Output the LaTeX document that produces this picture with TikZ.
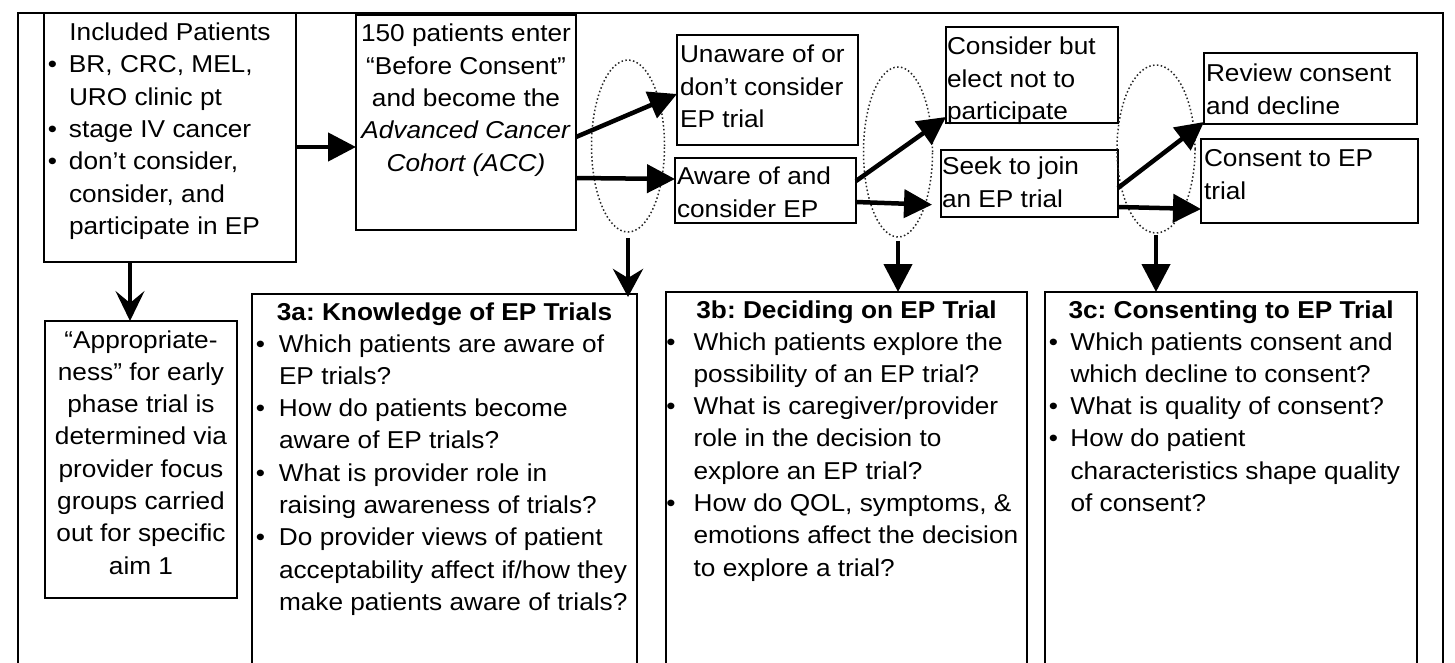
\documentclass[tikz,border=0pt]{standalone}
\usepackage{fontspec}
\setmainfont{Liberation Sans}[FakeStretch=1.075]
\usetikzlibrary{arrows.meta,shapes.geometric}
\frenchspacing
\tikzset{
 box/.style={draw, line width=2pt, rectangle, inner sep=0pt, outer sep=0pt, anchor=north west},
 txt/.style={inner sep=0pt, outer sep=0pt, font=\fontsize{24.4}{32.3}\selectfont},
 ttl/.style={txt, font=\fontsize{24.4}{32.3}\selectfont\bfseries, anchor=base},
 arr/.style={line width=4.5pt, -{Triangle[length=28pt,width=28pt]}},
 barb/.style={line width=4.5pt, -{Stealth[length=28pt,width=30pt,inset=9pt]}},
 barbthin/.style={line width=3.3pt, -{Stealth[length=30pt,width=29pt,inset=12pt]}},
 oval/.style={ellipse, draw, dash pattern=on 1.5pt off 2.4pt, line width=1.5pt, inner sep=0pt, draw=black!85},
}
\newcommand\bu[1]{\llap{•\hspace{#1}}}
\newcommand\lft[1]{\begin{tabular}[t]{@{}l@{}}#1\end{tabular}}
\newcommand\ctr[1]{\begin{tabular}[t]{@{}c@{}}#1\end{tabular}}
\begin{document}
\begin{tikzpicture}[x=1pt,y=-1pt]
\useasboundingbox (0,0) rectangle (1455,663);
\clip (0,0) rectangle (1455,663);
\fill[white] (0,0) rectangle (1455,663);
% frame
\draw[line width=2pt] (18,720) -- (18,13) -- (1443,13) -- (1443,720);
% boxes
\node[box, minimum width=252pt, minimum height=249pt] (A) at (44,13) {};
\node[box, minimum width=220pt, minimum height=215pt] (B) at (356,15) {};
\node[box, minimum width=181pt, minimum height=110pt] (U) at (677,35) {};
\node[box, minimum width=181pt, minimum height=65pt] (Aw) at (675,158) {};
\node[box, minimum width=172pt, minimum height=96pt] (C) at (946,27) {};
\node[box, minimum width=177pt, minimum height=67pt] (S) at (941,150) {};
\node[box, minimum width=213pt, minimum height=71pt] (R) at (1204,53) {};
\node[box, minimum width=217pt, minimum height=84pt] (Co) at (1201,139) {};
\node[box, minimum width=192pt, minimum height=277pt] (Ap) at (45,321) {};
\node[box, minimum width=385pt, minimum height=420pt] (K3a) at (252,294) {};
\node[box, minimum width=361pt, minimum height=420pt] (K3b) at (666,292) {};
\node[box, minimum width=372pt, minimum height=420pt] (K3c) at (1045,292) {};
% ellipses
\node[oval, minimum width=73pt, minimum height=172pt] (e1) at (628,146) {};
\node[oval, minimum width=69pt, minimum height=170pt] (e2) at (898,152) {};
\node[oval, minimum width=78pt, minimum height=168pt] (e3) at (1156,149) {};
% texts
\node[txt, anchor=base] (tA0) at (170,41) {Included Patients};
\node[txt, anchor=base west] (tA) at (69,73) {\lft{\bu{12pt}BR, CRC, MEL,\\ URO clinic pt\\ \bu{12pt}stage IV cancer\\ \bu{12pt}don’t consider,\\ consider, and\\ participate in EP}};
\node[txt, anchor=base] (tB) at (466,42) {\ctr{150 patients enter\\ “Before Consent”\\ and become the\\ \textit{Advanced Cancer}\\ \textit{Cohort (ACC)}}};
\node[txt, anchor=base west] (tU) at (680,63) {\lft{Unaware of or\\ don’t consider\\ EP trial}};
\node[txt, anchor=base west] (tAw) at (677,185) {\lft{Aware of and\\ consider EP}};
\node[txt, anchor=base west] (tC) at (947,55) {\lft{Consider but\\ elect not to\\ participate}};
\node[txt, anchor=base west] (tS) at (942,175) {\lft{Seek to join\\ an EP trial}};
\node[txt, anchor=base west] (tR) at (1206,82) {\lft{Review consent\\ and decline}};
\node[txt, anchor=base west] (tCo) at (1204,167) {\lft{Consent to EP\\ trial}};
\node[txt, anchor=base] (tAp) at (141,348) {\ctr{“Appropriate-\\ ness” for early\\ phase trial is\\ determined via\\ provider focus\\ groups carried\\ out for specific\\ aim 1}};
\node[ttl] (h3a) at (444.5,320) {3a: Knowledge of EP Trials};
\node[txt, anchor=base west] (t3a) at (279,352) {\lft{\bu{14pt}Which patients are aware of\\ EP trials?\\ \bu{14pt}How do patients become\\ aware of EP trials?\\ \bu{14pt}What is provider role in\\ raising awareness of trials?\\ \bu{14pt}Do provider views of patient\\ acceptability affect if/how they\\ make patients aware of trials?}};
\node[ttl] (h3b) at (846.5,318) {3b: Deciding on EP Trial};
\node[txt, anchor=base west] (t3b) at (693.6,350) {\lft{\bu{18pt}Which patients explore the\\ possibility of an EP trial?\\ \bu{18pt}What is caregiver/provider\\ role in the decision to\\ explore an EP trial?\\ \bu{18pt}How do QOL, symptoms, \&\\ emotions affect the decision\\ to explore a trial?}};
\node[ttl] (h3c) at (1231,318) {3c: Consenting to EP Trial};
\node[txt, anchor=base west] (t3c) at (1070.5,350) {\lft{\bu{12.5pt}Which patients consent and\\ which decline to consent?\\ \bu{12.5pt}What is quality of consent?\\ \bu{12.5pt}How do patient\\ characteristics shape quality\\ of consent?}};
% arrows
\draw[arr] (A.east |- 0,147) -- (B.west |- 0,147);
\draw[arr] (B.east |- 0,137) -- (U.west |- 0,94);
\draw[arr] (B.east |- 0,178) -- (Aw.west |- 0,179);
\draw[arr] (Aw.east |- 0,181) -- (C.west |- 0,117);
\draw[arr, shorten >=9pt] (Aw.east |- 0,202) -- (S.west |- 0,205);
\draw[arr] (S.east |- 0,188) -- (R.west |- 0,122);
\draw[arr] (S.east |- 0,207) -- (Co.west |- 0,209);
\draw[barb] ([yshift=-5pt]e1.south) -- (e1.south |- 0,297);
\draw[arr] ([yshift=-3pt]e2.south) -- (e2.south |- K3b.north);
\draw[arr] ([yshift=-1pt]e3.south) -- (e3.south |- K3c.north);
\draw[barbthin] (A.south -| 130,0) -- (Ap.north -| 130,0);
\end{tikzpicture}
\end{document}
